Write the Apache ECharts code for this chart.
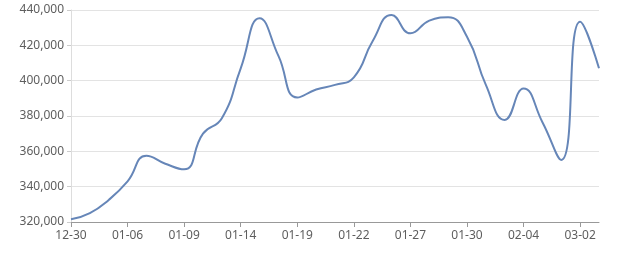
<!DOCTYPE html>
<html>
<head>
<meta charset="utf-8">
<script src="https://cdn.jsdelivr.net/npm/echarts@6/dist/echarts.min.js"></script>
<style>
html,body{margin:0;padding:0;background:#fff;}
#c{width:640px;height:270px;}
</style>
</head>
<body>
<div id="c"></div>
<script>
const categories = ['12-30','12-31','01-03','01-06','01-07','01-08','01-09','01-10','01-13','01-14','01-15','01-16','01-19','01-20','01-21','01-22','01-23','01-24','01-27','01-28','01-29','01-30','01-31','02-03','02-04','02-05','02-06','03-02','03-03'];
const values = [321500,325000,332500,343000,357500,353000,349800,370000,378700,407000,435300,414000,390500,395000,397600,401900,422500,437200,426800,434000,435900,424900,397600,377700,395600,376500,355100,433400,407000];
const yMin = 320000, yMax = 440000, yStep = 20000;

const chart = echarts.init(document.getElementById('c'), null, {renderer:'canvas'});
chart.setOption({
  animation:false,
  grid:{left:71,right:41,top:10,bottom:48,containLabel:false},
  xAxis:{
    type:'category',
    data:categories,
    boundaryGap:false,
    axisLine:{lineStyle:{color:'#999'}},
    axisTick:{show:true,interval:2,length:5,lineStyle:{color:'#999'}},
    axisLabel:{interval:2,color:'#5e5e5e',fontSize:12,fontFamily:'Noto Sans',margin:8},
    splitLine:{show:false}
  },
  yAxis:{
    type:'value',
    min:yMin,max:yMax,interval:yStep,
    axisLine:{show:true,lineStyle:{color:'#ddd'}},
    axisTick:{show:true,length:4,lineStyle:{color:'#ccc'}},
    axisLabel:{color:'#5e5e5e',fontSize:12,fontFamily:'Noto Sans',margin:7,
      formatter:v=>v.toLocaleString('en-US')},
    splitLine:{lineStyle:{color:'#e3e3e3'}}
  },
  series:[{
    type:'line',
    data:values,
    smooth:true,
    showSymbol:false,
    symbol:'none',
    lineStyle:{color:'#6686b8',width:2},
    itemStyle:{color:'#6686b8'}
  }]
});
</script>
</body>
</html>
